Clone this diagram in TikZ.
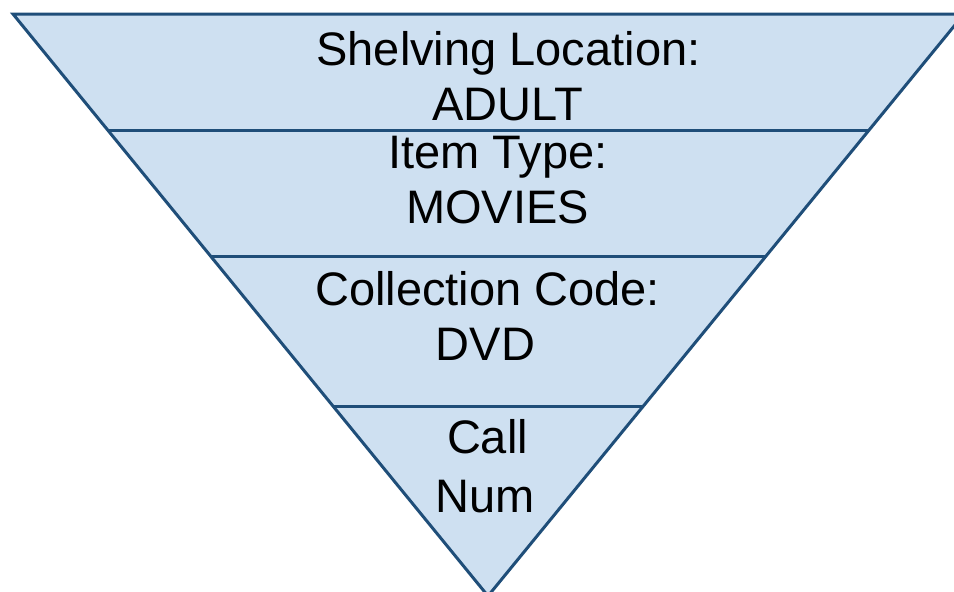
\documentclass[tikz,border=0pt]{standalone}
\usepackage{fontspec}
\setmainfont{Liberation Sans}
\usetikzlibrary{calc}
\definecolor{edgeblue}{HTML}{1F4E79}
\definecolor{bandfill}{HTML}{CEE0F1}
\begin{document}
\begin{tikzpicture}[x=1pt,y=-1pt,
  lbl/.style={inner sep=0pt, anchor=base, font=\fontsize{47}{55}\selectfont},
  bandline/.style={draw=edgeblue, line width=3pt}]
\useasboundingbox (0,0) rectangle (954,592);
\clip (0,0) rectangle (954,592);
\coordinate (TL) at (13,14);
\coordinate (TR) at (964,14);
\coordinate (A) at (488,596);
\fill[bandfill] (TL) -- (TR) -- (A) -- cycle;
\foreach \t in {0.201,0.416,0.674}
  \draw[bandline] ($(TL)!\t!(A)$) -- ($(TR)!\t!(A)$);
\draw[bandline, line join=miter] (TL) -- (TR) -- (A) -- cycle;
\node[lbl] (s1a) at (508.5,65) {Shelving Location:};
\node[lbl] (s1b) at (507.5,120) {ADULT};
\node[lbl] (s2a) at (498,168) {Item Type:};
\node[lbl] (s2b) at (497.5,223) {MOVIES};
\node[lbl] (s3a) at (487.5,305) {Collection Code:};
\node[lbl] (s3b) at (485.5,360) {DVD};
\node[lbl] (s4a) at (487.5,453) {Call};
\node[lbl] (s4b) at (485.5,512) {Num};
\end{tikzpicture}
\end{document}
